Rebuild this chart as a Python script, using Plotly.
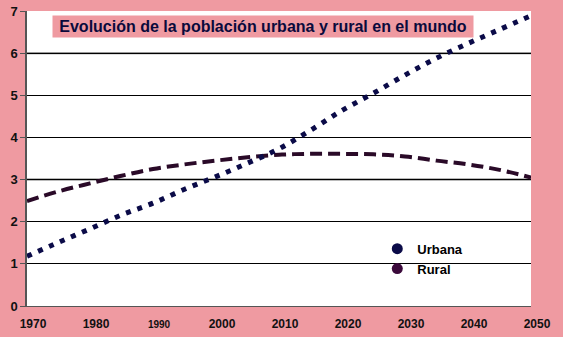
import plotly.graph_objects as go

years = [1970, 1975, 1980, 1985, 1990, 1995, 2000, 2005, 2010, 2015, 2020,
         2025, 2030, 2035, 2040, 2045, 2050]
urbana = [1.18, 1.51, 1.83, 2.16, 2.44, 2.77, 3.07, 3.39, 3.73, 4.17, 4.64,
          5.05, 5.48, 5.88, 6.23, 6.56, 6.89]
rural = [2.49, 2.72, 2.91, 3.09, 3.25, 3.36, 3.45, 3.53, 3.59, 3.61, 3.61,
         3.60, 3.55, 3.45, 3.36, 3.23, 3.05]
x_ticks = [1970, 1980, 1990, 2000, 2010, 2020, 2030, 2040, 2050]
x_labels = ["1970", "1980", '<span style="font-size:10px">1990</span>', "2000",
            "2010", "2020", "2030", "2040", "2050"]
y_ticks = [0, 1, 2, 3, 4, 5, 6, 7]
title = "Evolución de la población urbana y rural en el mundo"

PINK = "#EF9AA1"
URB = "#0B0B48"
RUR = "#2A0A28"
FONT = "Liberation Sans, Arial, sans-serif"

fig = go.Figure()
fig.add_trace(go.Scatter(x=years, y=rural, mode="lines", line_shape="spline",
                         line=dict(color=RUR, width=4, dash="12px,6px"),
                         showlegend=False))
fig.add_trace(go.Scatter(x=years, y=urbana, mode="lines", line_shape="spline",
                         line=dict(color=URB, width=5, dash="5px,7px"),
                         showlegend=False))
fig.add_trace(go.Scatter(x=[None], y=[None], mode="markers", name="Urbana",
                         marker=dict(color=URB, size=11)))
fig.add_trace(go.Scatter(x=[None], y=[None], mode="markers", name="Rural",
                         marker=dict(color="#3B0A3B", size=11)))

for yv in [3, 6]:
    fig.add_shape(type="line", xref="paper", x0=0, x1=1, yref="y", y0=yv, y1=yv,
                  line=dict(color="#777777", width=2), layer="below")

fig.add_annotation(text=title, xref="paper", yref="paper",
                   x=0.468, y=0.9458, xanchor="center", yanchor="middle",
                   showarrow=False, width=418, height=19, bgcolor=PINK,
                   font=dict(family=FONT, size=16, color="#0A0A3C", weight="bold"))

fig.update_layout(
    width=563, height=337,
    margin=dict(l=27, r=32, t=11, b=31, autoexpand=False),
    paper_bgcolor=PINK, plot_bgcolor="white",
    font=dict(family=FONT, color="#111111"),
    legend=dict(x=0.695, y=0.245, xanchor="left", yanchor="top",
                bgcolor="rgba(0,0,0,0)",
                font=dict(family=FONT, size=13, color="#000000", weight="bold"),
                tracegroupgap=0),
    xaxis=dict(range=[1970, 2050], tickvals=x_ticks, ticktext=x_labels,
               showgrid=False, zeroline=False, showline=True, automargin=False,
               linecolor="#555555", linewidth=1, ticks="",
               ticklabelstandoff=7, ticklabelshift=6,
               tickfont=dict(family=FONT, size=12, color="#111111", weight="bold")),
    yaxis=dict(range=[0, 7], tickvals=y_ticks, showgrid=True, automargin=False,
               gridcolor="#000000", gridwidth=1, zeroline=False,
               showline=True, linecolor="#555555", linewidth=1.5,
               ticks="outside", ticklen=5, tickcolor="#555555",
               tickfont=dict(family=FONT, size=13, color="#111111", weight="bold")),
)

fig.write_html("out.html")
